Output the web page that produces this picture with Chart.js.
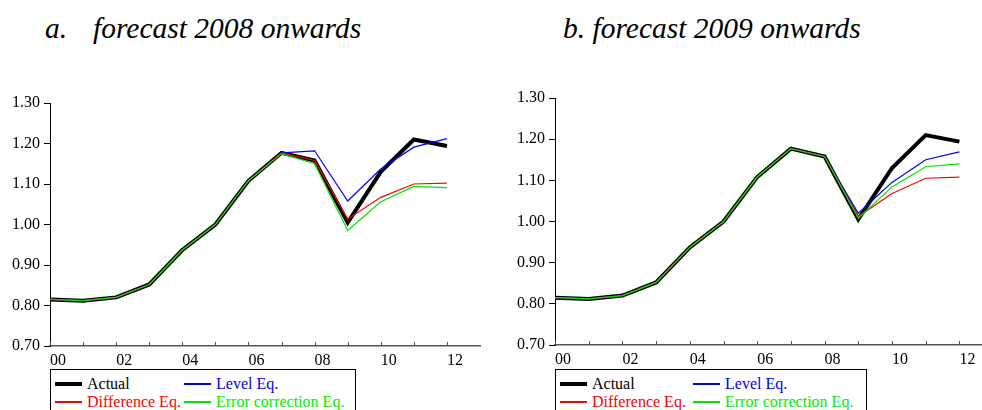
<!DOCTYPE html>
<html>
<head>
<meta charset="utf-8">
<style>
  html, body { margin: 0; padding: 0; background: #fff; width: 982px; height: 410px; overflow: hidden; position: relative; }
  canvas { position: absolute; }
  .ser { font-family: 'Liberation Serif', 'Tinos', 'Times New Roman', serif; }
  .ttl { position: absolute; top: 14px; font-style: italic; font-size: 29.5px; line-height: 1; white-space: nowrap; color: #000; }
  .leg { position: absolute; top: 369px; height: 60px; border: 1px solid #000; box-sizing: border-box; font-size: 16px; }
</style>
</head>
<body>
<div class="ser ttl" style="left:45px;">a.</div>
<div class="ser ttl" style="left:93px;">forecast 2008 onwards</div>
<div class="ser ttl" style="left:563px;">b. forecast 2009 onwards</div>
<canvas id="ca" width="490" height="368" style="left:0; top:0;"></canvas>
<canvas id="cb" width="492" height="368" style="left:490px; top:0;"></canvas>
<div id="la" class="ser leg" style="left:50px; width:306px;"></div>
<div id="lb" class="ser leg" style="left:555px; width:312px;"></div>
<script src="https://cdn.jsdelivr.net/npm/chart.js@4.4.1/dist/chart.umd.min.js"></script>
<script>
// ---- data ----
const years = ['00','01','02','03','04','05','06','07','08','09','10','11','12'];
const seriesNames = ['Actual', 'Level Eq.', 'Difference Eq.', 'Error correction Eq.'];
const actual = [0.815, 0.812, 0.820, 0.852, 0.937, 1.000, 1.108, 1.177, 1.158, 1.005, 1.130, 1.210, 1.194];
// panel a: forecast 2008 onwards
const levelA = [0.815, 0.812, 0.820, 0.852, 0.937, 1.000, 1.108, 1.177, 1.182, 1.058, 1.137, 1.191, 1.212];
const diffA  = [0.815, 0.812, 0.820, 0.852, 0.937, 1.000, 1.108, 1.177, 1.158, 1.013, 1.067, 1.100, 1.102];
const ecmA   = [0.815, 0.812, 0.820, 0.852, 0.937, 1.000, 1.108, 1.175, 1.150, 0.985, 1.056, 1.094, 1.091];
// panel b: forecast 2009 onwards
const levelB = [0.815, 0.812, 0.820, 0.852, 0.937, 1.000, 1.108, 1.177, 1.158, 1.020, 1.095, 1.150, 1.169];
const diffB  = [0.815, 0.812, 0.820, 0.852, 0.937, 1.000, 1.108, 1.177, 1.158, 1.012, 1.068, 1.105, 1.108];
const ecmB   = [0.815, 0.812, 0.820, 0.852, 0.937, 1.000, 1.108, 1.177, 1.158, 1.008, 1.084, 1.133, 1.140];

const colors = ['#000000', '#0000ff', '#ff0000', '#00e600'];
const textColors = ['#000000', '#0000ff', '#ff0000', '#00ee00'];
const widths = [4, 1.2, 1.2, 1.2];
const orders = [3, 2, 1, 0];

const FONT = "'Liberation Serif', Tinos, 'Times New Roman', serif";
Chart.defaults.font.family = FONT;

function pts(arr) { return arr.map((v, i) => ({ x: i, y: v })); }

const upTicks = {
  id: 'upTicks',
  afterDraw(chart) {
    const xs = chart.scales.x;
    const ctx = chart.ctx;
    ctx.save();
    ctx.strokeStyle = '#555';
    ctx.lineWidth = 1;
    xs.ticks.forEach(t => {
      const px = Math.round(xs.getPixelForValue(t.value)) + 0.5;
      ctx.beginPath();
      ctx.moveTo(px, xs.top);
      ctx.lineTo(px, xs.top - 4);
      ctx.stroke();
    });
    ctx.restore();
  }
};

function makeChart(id, series, opts) {
  const datasets = series.map((arr, k) => ({
    label: seriesNames[k],
    data: pts(arr),
    borderColor: colors[k],
    backgroundColor: colors[k],
    borderWidth: widths[k],
    pointRadius: 0,
    tension: 0,
    order: orders[k],
    borderJoinStyle: 'miter'
  }));
  return new Chart(document.getElementById(id), {
    type: 'line',
    data: { datasets },
    plugins: [upTicks],
    options: {
      responsive: false,
      animation: false,
      devicePixelRatio: 1,
      layout: { padding: { left: 0, right: opts.padRight, top: opts.padTop, bottom: 0 } },
      plugins: { legend: { display: false }, tooltip: { enabled: false }, title: { display: false } },
      scales: {
        x: {
          type: 'linear',
          min: 0,
          max: opts.xMax,
          afterFit: s => { s.height = opts.xHeight; },
          afterBuildTicks: s => { s.ticks = years.map((_, i) => ({ value: i })); },
          border: { display: true, color: '#555', width: 1.5 },
          grid: { drawOnChartArea: false, drawTicks: false },
          ticks: {
            autoSkip: false,
            maxRotation: 0,
            align: 'start',
            padding: 5,
            color: '#000',
            font: { family: FONT, size: 16 },
            callback: v => (v % 2 === 0 ? years[v] : '')
          }
        },
        y: {
          min: 0.7,
          max: 1.3,
          afterFit: s => { s.width = opts.yWidth; },
          border: { display: true, color: '#000', width: 1 },
          grid: { drawOnChartArea: false, drawTicks: true, tickLength: 6, color: '#000' },
          ticks: {
            stepSize: 0.1,
            padding: 4,
            color: '#000',
            font: { family: FONT, size: 16 },
            callback: v => Number(v).toFixed(2)
          }
        }
      }
    }
  });
}

function buildLegend(el, chart, geo) {
  const pos = [[0, 0], [1, 0], [0, 1], [1, 1]]; // Actual, Level, Difference, Error correction
  chart.data.datasets.forEach((ds, k) => {
    const [c, r] = pos[k];
    const item = document.createElement('div');
    item.style.position = 'absolute';
    item.style.whiteSpace = 'nowrap';
    item.style.lineHeight = '18px';
    item.style.left = (c === 0 ? geo.col1 : geo.col2) + 'px';
    item.style.top = (r === 0 ? 5 : 23) + 'px';
    item.style.height = '18px';
    const sw = document.createElement('div');
    sw.style.position = 'absolute';
    sw.style.top = '50%';
    sw.style.left = '0px';
    sw.style.width = geo.sw + 'px';
    sw.style.height = ds.borderWidth + 'px';
    sw.style.marginTop = (-ds.borderWidth / 2) + 'px';
    sw.style.background = ds.borderColor;
    const lb = document.createElement('span');
    lb.style.position = 'absolute';
    lb.style.left = (geo.sw + 5) + 'px';
    lb.style.top = '0px';
    lb.style.color = textColors[k];
    lb.textContent = ds.label;
    item.appendChild(sw);
    item.appendChild(lb);
    el.appendChild(item);
  });
}
const chA = makeChart('ca', [actual, levelA, diffA, ecmA], { padRight: 10, padTop: 103, xMax: 13, xHeight: 22, yWidth: 50 });
const chB = makeChart('cb', [actual, levelB, diffB, ecmB], { padRight: 0, padTop: 98, xMax: 12.67, xHeight: 23, yWidth: 65 });
buildLegend(document.getElementById('la'), chA, { col1: 4, col2: 133, sw: 27 });
buildLegend(document.getElementById('lb'), chB, { col1: 4, col2: 137, sw: 27 });
</script>
</body>
</html>
